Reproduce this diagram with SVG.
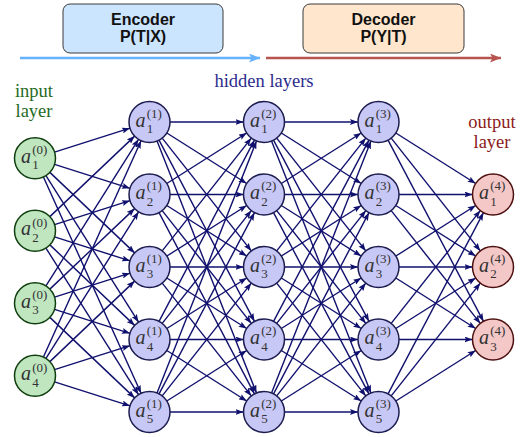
<svg xmlns="http://www.w3.org/2000/svg" width="529" height="437" viewBox="0 0 529 437">
<style>
.e{stroke:#10106e;stroke-width:1.4;fill:none;marker-end:url(#ah)}
.in circle{fill:#c0e6c0;stroke:#0f3f0f;stroke-width:1.5}
.hid circle{fill:#c8c8f6;stroke:#1c1c50;stroke-width:1.5}
.out circle{fill:#f5c8c8;stroke:#4d1010;stroke-width:1.5}
.a{font-family:"Liberation Serif",serif;font-style:italic;font-size:20px;fill:#333}
.s{font-family:"Liberation Serif",serif;font-size:13px;fill:#333}
.box{stroke:#3a3a3a;stroke-width:1}
.bt{font-family:"Liberation Sans",Arial,sans-serif;font-weight:bold;font-size:16px;fill:#111;text-anchor:middle}
.lbl{font-family:"Liberation Serif",serif;font-size:18.5px;text-anchor:middle}
</style>
<defs>
<marker id="ah" markerUnits="userSpaceOnUse" markerWidth="8" markerHeight="6" refX="8" refY="3" orient="auto">
<path d="M0,0 L8,3 L0,6 L1.5,3 Z" fill="#10106e"/>
</marker>
<marker id="ab" markerUnits="userSpaceOnUse" markerWidth="11" markerHeight="9" refX="11" refY="4.5" orient="auto">
<path d="M0,0 L11,4.5 L0,9 L2.5,4.5 Z" fill="#66b2ff"/>
</marker>
<marker id="ar" markerUnits="userSpaceOnUse" markerWidth="11" markerHeight="9" refX="11" refY="4.5" orient="auto">
<path d="M0,0 L11,4.5 L0,9 L2.5,4.5 Z" fill="#b85450"/>
</marker>
</defs>
<rect width="529" height="437" fill="#fff"/>

<g id="encoder">
<rect class="box" x="63" y="4" width="160" height="49" rx="7" fill="#cce5ff"/>
<text class="bt" x="143" y="25">Encoder</text>
<text class="bt" x="143" y="42">P(T|X)</text>
</g>
<g id="decoder">
<rect class="box" x="303" y="4" width="161" height="49" rx="7" fill="#ffe6cc"/>
<text class="bt" x="383.5" y="25">Decoder</text>
<text class="bt" x="383.5" y="42">P(Y|T)</text>
</g>
<g id="flow-arrows">
<line x1="20" y1="58" x2="260" y2="58" stroke="#66b2ff" stroke-width="2.5" marker-end="url(#ab)"/>
<line x1="266" y1="58" x2="501" y2="58" stroke="#b85450" stroke-width="2.5" marker-end="url(#ar)"/>
</g>

<g id="labels">
<text class="lbl" x="264" y="87" fill="#2b2b8c">hidden layers</text>
<text class="lbl" x="34" y="97" fill="#1f6b1f">input</text>
<text class="lbl" x="34" y="117" fill="#1f6b1f">layer</text>
<text class="lbl" x="492" y="128" fill="#8b1a1a">output</text>
<text class="lbl" x="492" y="148" fill="#8b1a1a">layer</text>
</g>

<g id="connectors">
<line class="e" x1="54.54" y1="152.06" x2="129.96" y2="128.19"/>
<line class="e" x1="54.54" y1="164.44" x2="129.96" y2="188.31"/>
<line class="e" x1="49.86" y1="172.37" x2="134.64" y2="252.88"/>
<line class="e" x1="45.95" y1="175.58" x2="138.55" y2="322.17"/>
<line class="e" x1="43.43" y1="176.94" x2="141.07" y2="393.31"/>
<line class="e" x1="49.86" y1="216.63" x2="134.64" y2="136.12"/>
<line class="e" x1="54.54" y1="224.56" x2="129.96" y2="200.69"/>
<line class="e" x1="54.54" y1="236.94" x2="129.96" y2="260.81"/>
<line class="e" x1="49.86" y1="244.87" x2="134.64" y2="325.38"/>
<line class="e" x1="45.95" y1="248.08" x2="138.55" y2="394.67"/>
<line class="e" x1="45.95" y1="285.92" x2="138.55" y2="139.33"/>
<line class="e" x1="49.86" y1="289.13" x2="134.64" y2="208.62"/>
<line class="e" x1="54.54" y1="297.06" x2="129.96" y2="273.19"/>
<line class="e" x1="54.54" y1="309.44" x2="129.96" y2="333.31"/>
<line class="e" x1="49.86" y1="317.37" x2="134.64" y2="397.88"/>
<line class="e" x1="43.43" y1="357.06" x2="141.07" y2="140.69"/>
<line class="e" x1="45.95" y1="358.42" x2="138.55" y2="211.83"/>
<line class="e" x1="49.86" y1="361.63" x2="134.64" y2="281.12"/>
<line class="e" x1="54.54" y1="369.56" x2="129.96" y2="345.69"/>
<line class="e" x1="54.54" y1="381.94" x2="129.96" y2="405.81"/>

<line class="e" x1="170" y1="122" x2="243.5" y2="122"/>
<line class="e" x1="166.82" y1="132.97" x2="246.68" y2="183.53"/>
<line class="e" x1="162.2" y1="138.09" x2="251.3" y2="250.91"/>
<line class="e" x1="159.05" y1="140.14" x2="254.45" y2="321.36"/>
<line class="e" x1="157.03" y1="141.07" x2="256.47" y2="392.93"/>
<line class="e" x1="166.82" y1="183.53" x2="246.68" y2="132.97"/>
<line class="e" x1="170" y1="194.5" x2="243.5" y2="194.5"/>
<line class="e" x1="166.82" y1="205.47" x2="246.68" y2="256.03"/>
<line class="e" x1="162.2" y1="210.59" x2="251.3" y2="323.41"/>
<line class="e" x1="159.05" y1="212.64" x2="254.45" y2="393.86"/>
<line class="e" x1="162.2" y1="250.91" x2="251.3" y2="138.09"/>
<line class="e" x1="166.82" y1="256.03" x2="246.68" y2="205.47"/>
<line class="e" x1="170" y1="267" x2="243.5" y2="267"/>
<line class="e" x1="166.82" y1="277.97" x2="246.68" y2="328.53"/>
<line class="e" x1="162.2" y1="283.09" x2="251.3" y2="395.91"/>
<line class="e" x1="159.05" y1="321.36" x2="254.45" y2="140.14"/>
<line class="e" x1="162.2" y1="323.41" x2="251.3" y2="210.59"/>
<line class="e" x1="166.82" y1="328.53" x2="246.68" y2="277.97"/>
<line class="e" x1="170" y1="339.5" x2="243.5" y2="339.5"/>
<line class="e" x1="166.82" y1="350.47" x2="246.68" y2="401.03"/>
<line class="e" x1="157.03" y1="392.93" x2="256.47" y2="141.07"/>
<line class="e" x1="159.05" y1="393.86" x2="254.45" y2="212.64"/>
<line class="e" x1="162.2" y1="395.91" x2="251.3" y2="283.09"/>
<line class="e" x1="166.82" y1="401.03" x2="246.68" y2="350.47"/>
<line class="e" x1="170" y1="412" x2="243.5" y2="412"/>

<line class="e" x1="284.5" y1="122" x2="358" y2="122"/>
<line class="e" x1="281.32" y1="132.97" x2="361.18" y2="183.53"/>
<line class="e" x1="276.7" y1="138.09" x2="365.8" y2="250.91"/>
<line class="e" x1="273.55" y1="140.14" x2="368.95" y2="321.36"/>
<line class="e" x1="271.53" y1="141.07" x2="370.97" y2="392.93"/>
<line class="e" x1="281.32" y1="183.53" x2="361.18" y2="132.97"/>
<line class="e" x1="284.5" y1="194.5" x2="358" y2="194.5"/>
<line class="e" x1="281.32" y1="205.47" x2="361.18" y2="256.03"/>
<line class="e" x1="276.7" y1="210.59" x2="365.8" y2="323.41"/>
<line class="e" x1="273.55" y1="212.64" x2="368.95" y2="393.86"/>
<line class="e" x1="276.7" y1="250.91" x2="365.8" y2="138.09"/>
<line class="e" x1="281.32" y1="256.03" x2="361.18" y2="205.47"/>
<line class="e" x1="284.5" y1="267" x2="358" y2="267"/>
<line class="e" x1="281.32" y1="277.97" x2="361.18" y2="328.53"/>
<line class="e" x1="276.7" y1="283.09" x2="365.8" y2="395.91"/>
<line class="e" x1="273.55" y1="321.36" x2="368.95" y2="140.14"/>
<line class="e" x1="276.7" y1="323.41" x2="365.8" y2="210.59"/>
<line class="e" x1="281.32" y1="328.53" x2="361.18" y2="277.97"/>
<line class="e" x1="284.5" y1="339.5" x2="358" y2="339.5"/>
<line class="e" x1="281.32" y1="350.47" x2="361.18" y2="401.03"/>
<line class="e" x1="271.53" y1="392.93" x2="370.97" y2="141.07"/>
<line class="e" x1="273.55" y1="393.86" x2="368.95" y2="212.64"/>
<line class="e" x1="276.7" y1="395.91" x2="365.8" y2="283.09"/>
<line class="e" x1="281.32" y1="401.03" x2="361.18" y2="350.47"/>
<line class="e" x1="284.5" y1="412" x2="358" y2="412"/>

<line class="e" x1="395.82" y1="132.97" x2="475.68" y2="183.53"/>
<line class="e" x1="391.2" y1="138.09" x2="480.3" y2="250.91"/>
<line class="e" x1="388.05" y1="140.14" x2="483.45" y2="321.36"/>
<line class="e" x1="399" y1="194.5" x2="472.5" y2="194.5"/>
<line class="e" x1="395.82" y1="205.47" x2="475.68" y2="256.03"/>
<line class="e" x1="391.2" y1="210.59" x2="480.3" y2="323.41"/>
<line class="e" x1="395.82" y1="256.03" x2="475.68" y2="205.47"/>
<line class="e" x1="399" y1="267" x2="472.5" y2="267"/>
<line class="e" x1="395.82" y1="277.97" x2="475.68" y2="328.53"/>
<line class="e" x1="391.2" y1="323.41" x2="480.3" y2="210.59"/>
<line class="e" x1="395.82" y1="328.53" x2="475.68" y2="277.97"/>
<line class="e" x1="399" y1="339.5" x2="472.5" y2="339.5"/>
<line class="e" x1="388.05" y1="393.86" x2="483.45" y2="212.64"/>
<line class="e" x1="391.2" y1="395.91" x2="480.3" y2="283.09"/>
<line class="e" x1="395.82" y1="401.03" x2="475.68" y2="350.47"/>
</g>

<g id="n0_1" class="in"><circle cx="35" cy="158.25" r="20.5"/><text class="a" x="21" y="162.75">a</text><text class="s" x="32.2" y="169.25">1</text><text class="s" x="32.2" y="154">(0)</text></g>
<g id="n0_2" class="in"><circle cx="35" cy="230.75" r="20.5"/><text class="a" x="21" y="235.25">a</text><text class="s" x="32.2" y="241.75">2</text><text class="s" x="32.2" y="226.5">(0)</text></g>
<g id="n0_3" class="in"><circle cx="35" cy="303.25" r="20.5"/><text class="a" x="21" y="307.75">a</text><text class="s" x="32.2" y="314.25">3</text><text class="s" x="32.2" y="299">(0)</text></g>
<g id="n0_4" class="in"><circle cx="35" cy="375.75" r="20.5"/><text class="a" x="21" y="380.25">a</text><text class="s" x="32.2" y="386.75">4</text><text class="s" x="32.2" y="371.5">(0)</text></g>

<g id="n1_1" class="hid"><circle cx="149.5" cy="122" r="20.5"/><text class="a" x="135.5" y="126.5">a</text><text class="s" x="146.7" y="133">1</text><text class="s" x="146.7" y="117.75">(1)</text></g>
<g id="n1_2" class="hid"><circle cx="149.5" cy="194.5" r="20.5"/><text class="a" x="135.5" y="199">a</text><text class="s" x="146.7" y="205.5">2</text><text class="s" x="146.7" y="190.25">(1)</text></g>
<g id="n1_3" class="hid"><circle cx="149.5" cy="267" r="20.5"/><text class="a" x="135.5" y="271.5">a</text><text class="s" x="146.7" y="278">3</text><text class="s" x="146.7" y="262.75">(1)</text></g>
<g id="n1_4" class="hid"><circle cx="149.5" cy="339.5" r="20.5"/><text class="a" x="135.5" y="344">a</text><text class="s" x="146.7" y="350.5">4</text><text class="s" x="146.7" y="335.25">(1)</text></g>
<g id="n1_5" class="hid"><circle cx="149.5" cy="412" r="20.5"/><text class="a" x="135.5" y="416.5">a</text><text class="s" x="146.7" y="423">5</text><text class="s" x="146.7" y="407.75">(1)</text></g>

<g id="n2_1" class="hid"><circle cx="264" cy="122" r="20.5"/><text class="a" x="250" y="126.5">a</text><text class="s" x="261.2" y="133">1</text><text class="s" x="261.2" y="117.75">(2)</text></g>
<g id="n2_2" class="hid"><circle cx="264" cy="194.5" r="20.5"/><text class="a" x="250" y="199">a</text><text class="s" x="261.2" y="205.5">2</text><text class="s" x="261.2" y="190.25">(2)</text></g>
<g id="n2_3" class="hid"><circle cx="264" cy="267" r="20.5"/><text class="a" x="250" y="271.5">a</text><text class="s" x="261.2" y="278">3</text><text class="s" x="261.2" y="262.75">(2)</text></g>
<g id="n2_4" class="hid"><circle cx="264" cy="339.5" r="20.5"/><text class="a" x="250" y="344">a</text><text class="s" x="261.2" y="350.5">4</text><text class="s" x="261.2" y="335.25">(2)</text></g>
<g id="n2_5" class="hid"><circle cx="264" cy="412" r="20.5"/><text class="a" x="250" y="416.5">a</text><text class="s" x="261.2" y="423">5</text><text class="s" x="261.2" y="407.75">(2)</text></g>

<g id="n3_1" class="hid"><circle cx="378.5" cy="122" r="20.5"/><text class="a" x="364.5" y="126.5">a</text><text class="s" x="375.7" y="133">1</text><text class="s" x="375.7" y="117.75">(3)</text></g>
<g id="n3_2" class="hid"><circle cx="378.5" cy="194.5" r="20.5"/><text class="a" x="364.5" y="199">a</text><text class="s" x="375.7" y="205.5">2</text><text class="s" x="375.7" y="190.25">(3)</text></g>
<g id="n3_3" class="hid"><circle cx="378.5" cy="267" r="20.5"/><text class="a" x="364.5" y="271.5">a</text><text class="s" x="375.7" y="278">3</text><text class="s" x="375.7" y="262.75">(3)</text></g>
<g id="n3_4" class="hid"><circle cx="378.5" cy="339.5" r="20.5"/><text class="a" x="364.5" y="344">a</text><text class="s" x="375.7" y="350.5">4</text><text class="s" x="375.7" y="335.25">(3)</text></g>
<g id="n3_5" class="hid"><circle cx="378.5" cy="412" r="20.5"/><text class="a" x="364.5" y="416.5">a</text><text class="s" x="375.7" y="423">5</text><text class="s" x="375.7" y="407.75">(3)</text></g>

<g id="n4_1" class="out"><circle cx="493" cy="194.5" r="20.5"/><text class="a" x="479" y="199">a</text><text class="s" x="490.2" y="205.5">1</text><text class="s" x="490.2" y="190.25">(4)</text></g>
<g id="n4_2" class="out"><circle cx="493" cy="267" r="20.5"/><text class="a" x="479" y="271.5">a</text><text class="s" x="490.2" y="278">2</text><text class="s" x="490.2" y="262.75">(4)</text></g>
<g id="n4_3" class="out"><circle cx="493" cy="339.5" r="20.5"/><text class="a" x="479" y="344">a</text><text class="s" x="490.2" y="350.5">3</text><text class="s" x="490.2" y="335.25">(4)</text></g>
</svg>
